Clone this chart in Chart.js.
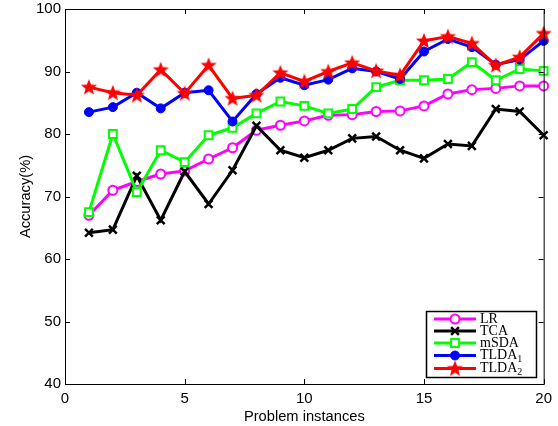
<!DOCTYPE html>
<html>
<head>
<meta charset="utf-8">
<script src="https://cdn.jsdelivr.net/npm/chart.js@4/dist/chart.umd.min.js"></script>
<style>
html, body { margin: 0; padding: 0; background: #fff; }
</style>
</head>
<body>
<canvas id="myChart" width="558" height="426"></canvas>
<script>
var instances = [1, 2, 3, 4, 5, 6, 7, 8, 9, 10, 11, 12, 13, 14, 15, 16, 17, 18, 19, 20];
var lrAcc    = [67.0, 71.0, 72.4, 73.6, 74.1, 76.0, 77.8, 80.6, 81.4, 82.1, 83.0, 83.1, 83.6, 83.7, 84.5, 86.4, 87.1, 87.3, 87.7, 87.7];
var tcaAcc   = [64.2, 64.7, 73.3, 66.2, 74.0, 68.8, 74.2, 81.3, 77.4, 76.2, 77.4, 79.3, 79.6, 77.4, 76.1, 78.4, 78.1, 84.0, 83.6, 79.8];
var msdaAcc  = [67.5, 80.0, 70.7, 77.4, 75.5, 79.8, 81.0, 83.3, 85.2, 84.5, 83.3, 84.0, 87.5, 88.6, 88.6, 88.8, 91.5, 88.6, 90.4, 90.1];
var tlda1Acc = [83.5, 84.3, 86.6, 84.1, 86.6, 87.0, 82.0, 86.4, 89.0, 87.8, 88.7, 90.5, 90.0, 88.8, 93.2, 95.2, 93.9, 91.1, 91.9, 94.9];
var tlda2Acc = [87.5, 86.6, 86.2, 90.3, 86.5, 91.0, 85.7, 86.2, 89.8, 88.4, 90.0, 91.4, 90.1, 89.4, 94.9, 95.6, 94.5, 91.0, 92.3, 96.1];
var xTicks = [0, 5, 10, 15, 20];
var yTicks = [40, 50, 60, 70, 80, 90, 100];

function pts(vals) {
    return instances.map(function (x, i) { return { x: x, y: vals[i] }; });
}

// filled red star used as point style
var star = document.createElement('canvas');
star.width = 18;
star.height = 18;
(function () {
    var c = star.getContext('2d');
    c.beginPath();
    for (var i = 0; i < 10; i++) {
        var r = i % 2 === 0 ? 8.5 : 3.6;
        var a = -Math.PI / 2 + i * Math.PI / 5;
        c.lineTo(9 + r * Math.cos(a), 9.5 + r * Math.sin(a));
    }
    c.closePath();
    c.fillStyle = '#ff0000';
    c.fill();
})();

var boxTicks = {
    id: 'boxTicks',
    afterDatasetsDraw: function (chart) {
        var c = chart.ctx, a = chart.chartArea;
        var xs = chart.scales.x, ys = chart.scales.y;
        c.save();
        c.strokeStyle = '#000';
        c.lineWidth = 1;
        c.strokeRect(a.left + 0.5, a.top + 0.5, a.right - a.left, a.bottom - a.top);
        c.beginPath();
        xTicks.forEach(function (v) {
            var px = Math.round(xs.getPixelForValue(v)) + 0.5;
            c.moveTo(px, a.bottom); c.lineTo(px, a.bottom - 5);
            c.moveTo(px, a.top); c.lineTo(px, a.top + 5);
        });
        yTicks.forEach(function (v) {
            var py = Math.round(ys.getPixelForValue(v)) + 0.5;
            c.moveTo(a.left, py); c.lineTo(a.left + 5, py);
            c.moveTo(a.right, py); c.lineTo(a.right - 5, py);
        });
        c.stroke();
        c.restore();
    }
};

var boxLegend = {
    id: 'boxLegend',
    afterDraw: function (chart) {
        var c = chart.ctx;
        var rows = [319, 331, 343, 355.5, 368.5];
        c.save();
        c.fillStyle = '#fff';
        c.fillRect(426, 311, 110, 66);
        c.strokeStyle = '#000';
        c.lineWidth = 1.5;
        c.strokeRect(426.5, 311.5, 110, 66);
        chart.data.datasets.forEach(function (ds, i) {
            var y = rows[i];
            c.strokeStyle = ds.borderColor;
            c.lineWidth = 3;
            c.beginPath();
            c.moveTo(434, y); c.lineTo(476, y);
            c.stroke();
            c.fillStyle = ds.pointBackgroundColor;
            c.strokeStyle = ds.borderColor;
            c.lineWidth = ds.pointBorderWidth;
            Chart.helpers.drawPoint(c, {
                pointStyle: ds.pointStyle, radius: ds.pointRadius,
                borderWidth: ds.pointBorderWidth, rotation: 0
            }, 455, y);
            c.fillStyle = '#000';
            c.textBaseline = 'middle';
            c.font = '14px "Liberation Serif"';
            var m = ds.label.match(/^(.*?)([\u2081\u2082])$/);
            if (m) {
                c.fillText(m[1], 480, y);
                var w = c.measureText(m[1]).width;
                c.font = '10px "Liberation Serif"';
                c.fillText(m[2] === '\u2081' ? '1' : '2', 480 + w, y + 4);
            } else {
                c.fillText(ds.label, 480, y);
            }
        });
        c.restore();
    }
};

var ctx = document.getElementById('myChart');
var myChart = new Chart(ctx, {
    type: 'line',
    data: {
        datasets: [{
            label: 'LR',
            data: pts(lrAcc),
            borderColor: '#ff00ff',
            pointBackgroundColor: '#ffffff',
            pointStyle: 'circle',
            pointRadius: 4.5,
            pointBorderWidth: 2,
            order: 5
        }, {
            label: 'TCA',
            data: pts(tcaAcc),
            borderColor: '#000000',
            pointBackgroundColor: '#000000',
            pointStyle: 'crossRot',
            pointRadius: 5.5,
            pointBorderWidth: 2.5,
            order: 4
        }, {
            label: 'mSDA',
            data: pts(msdaAcc),
            borderColor: '#00ff00',
            pointBackgroundColor: '#ffffff',
            pointStyle: 'rect',
            pointRadius: 5.5,
            pointBorderWidth: 2,
            order: 3
        }, {
            label: 'TLDA\u2081',
            data: pts(tlda1Acc),
            borderColor: '#0000ff',
            pointBackgroundColor: '#0000ff',
            pointStyle: 'circle',
            pointRadius: 4.5,
            pointBorderWidth: 1,
            order: 2
        }, {
            label: 'TLDA\u2082',
            data: pts(tlda2Acc),
            borderColor: '#ff0000',
            pointBackgroundColor: '#ff0000',
            pointStyle: star,
            pointRadius: 8,
            pointBorderWidth: 0,
            order: 1
        }]
    },
    options: {
        responsive: false,
        animation: false,
        layout: { autoPadding: false, padding: { top: 0, right: 14, left: 0, bottom: 0 } },
        elements: {
            line: { borderWidth: 3, tension: 0 },
        },
        datasets: { line: { clip: false } },
        plugins: {
            legend: { display: false },
            tooltip: { enabled: false }
        },
        scales: {
            x: {
                type: 'linear',
                min: 0, max: 20,
                afterFit: function (s) { s.height = 42; },
                afterBuildTicks: function (s) { s.ticks = xTicks.map(function (v) { return { value: v }; }); },
                grid: { display: false, drawTicks: false },
                border: { display: false },
                ticks: { color: '#000', padding: 6, font: { family: 'Liberation Sans', size: 15 } },
                title: {
                    display: true, text: 'Problem instances', color: '#000',
                    font: { family: 'Liberation Sans', size: 14.7 },
                    padding: { top: 0, bottom: 0 }
                }
            },
            y: {
                min: 40, max: 100,
                afterFit: function (s) { s.width = 65; },
                afterBuildTicks: function (s) { s.ticks = yTicks.map(function (v) { return { value: v }; }); },
                grid: { display: false, drawTicks: false },
                border: { display: false },
                ticks: { color: '#000', padding: 4, font: { family: 'Liberation Sans', size: 15, lineHeight: 0.667 } },
                title: {
                    display: true, text: 'Accuracy(%)', color: '#000',
                    font: { family: 'Liberation Sans', size: 14.7 },
                    padding: { top: 17, bottom: 0 }
                }
            }
        }
    },
    plugins: [boxTicks, boxLegend]
});
</script>
</body>
</html>
